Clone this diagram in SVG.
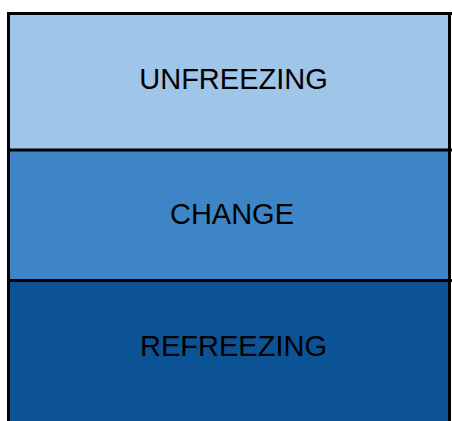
<svg xmlns="http://www.w3.org/2000/svg" width="452" height="421" viewBox="0 0 452 421">
  <style>
    .band-label { font-family: "Liberation Sans", Arial, sans-serif; font-size: 29px; fill: #000; text-anchor: middle; }
    .edge { stroke: #000; stroke-width: 3; fill: none; }
  </style>
  <rect width="452" height="421" fill="#ffffff"/>
  <g id="unfreezing">
    <rect x="8.5" y="13.5" width="442" height="137" fill="#9fc5e8"/>
    <text class="band-label" x="233.5" y="89">UNFREEZING</text>
  </g>
  <g id="change">
    <rect x="8.5" y="150.5" width="442" height="130" fill="#3d85c6"/>
    <text class="band-label" x="232" y="224">CHANGE</text>
  </g>
  <g id="refreezing">
    <rect x="8.5" y="280.5" width="442" height="141" fill="#0b5394"/>
    <text class="band-label" x="233.5" y="356">REFREEZING</text>
  </g>
  <g id="connectors">
    <line class="edge" x1="7" y1="13.5" x2="452" y2="13.5"/>
    <line class="edge" x1="8.5" y1="12" x2="8.5" y2="421"/>
    <line class="edge" x1="449.5" y1="12" x2="449.5" y2="421"/>
    <line class="edge" x1="8.5" y1="150" x2="452" y2="150"/>
    <line class="edge" x1="8.5" y1="280.5" x2="452" y2="280.5"/>
  </g>
</svg>
